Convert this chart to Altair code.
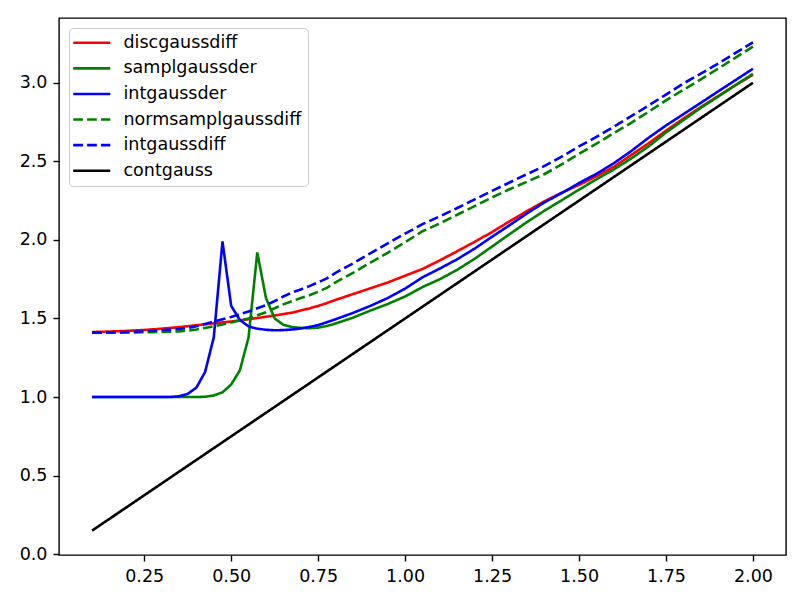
import altair as alt
import pandas as pd

sigma = [0.1, 0.125, 0.15, 0.175, 0.2, 0.225, 0.25, 0.275, 0.3, 0.325,
         0.35, 0.375, 0.4, 0.425, 0.45, 0.475, 0.5, 0.525, 0.55, 0.575,
         0.6, 0.625, 0.65, 0.675, 0.7, 0.725, 0.75, 0.775, 0.8,
         0.85, 0.9, 0.95, 1.0, 1.05, 1.1, 1.15, 1.2, 1.25, 1.3, 1.35, 1.4,
         1.45, 1.5, 1.55, 1.6, 1.65, 1.7, 1.75, 1.8, 1.85, 1.9, 1.95, 2.0]

discgaussdiff = [1.414, 1.415, 1.417, 1.419, 1.421, 1.424, 1.427, 1.431, 1.435, 1.440,
                 1.445, 1.451, 1.457, 1.463, 1.469, 1.475, 1.481, 1.488, 1.495, 1.503,
                 1.511, 1.519, 1.528, 1.537, 1.551, 1.564, 1.580, 1.598, 1.618,
                 1.655, 1.692, 1.729, 1.772, 1.815, 1.870, 1.928, 1.988, 2.050, 2.118,
                 2.183, 2.245, 2.300, 2.350, 2.405, 2.465, 2.540, 2.615, 2.695, 2.772,
                 2.845, 2.915, 2.985, 3.050]

samplgaussder = [1.0, 1.0, 1.0, 1.0, 1.0, 1.0, 1.0, 1.0, 1.0, 1.0,
                 1.0, 1.0, 1.0, 1.002, 1.01, 1.03, 1.08, 1.17, 1.38, 1.92,
                 1.63, 1.50, 1.46, 1.445, 1.44, 1.438, 1.442, 1.452, 1.468,
                 1.505, 1.550, 1.592, 1.640, 1.700, 1.750, 1.810, 1.880, 1.958, 2.036,
                 2.113, 2.185, 2.252, 2.320, 2.385, 2.448, 2.518, 2.595, 2.683, 2.762,
                 2.840, 2.912, 2.985, 3.057]

intgaussder = [1.0, 1.0, 1.0, 1.0, 1.0, 1.0, 1.0, 1.0, 1.0, 1.0,
               1.005, 1.02, 1.06, 1.16, 1.38, 1.99, 1.58, 1.49, 1.45, 1.435,
               1.428, 1.425, 1.426, 1.430, 1.437, 1.446, 1.458, 1.476, 1.495,
               1.535, 1.580, 1.630, 1.690, 1.762, 1.818, 1.877, 1.945, 2.020, 2.093,
               2.168, 2.238, 2.298, 2.362, 2.420, 2.488, 2.565, 2.650, 2.728, 2.800,
               2.872, 2.945, 3.017, 3.089]

normsamplgaussdiff = [1.410, 1.410, 1.410, 1.410, 1.411, 1.411, 1.412, 1.413, 1.414, 1.416,
                      1.418, 1.423, 1.430, 1.440, 1.450, 1.462, 1.474, 1.487, 1.500, 1.520,
                      1.540, 1.565, 1.590, 1.610, 1.630, 1.648, 1.670, 1.695, 1.730,
                      1.790, 1.855, 1.918, 1.985, 2.055, 2.105, 2.160, 2.215, 2.270, 2.322,
                      2.370, 2.418, 2.480, 2.548, 2.612, 2.680, 2.745, 2.815, 2.888, 2.955,
                      3.022, 3.090, 3.160, 3.230]

intgaussdiff = [1.410, 1.410, 1.411, 1.412, 1.414, 1.416, 1.419, 1.422, 1.425, 1.429,
                1.433, 1.440, 1.450, 1.465, 1.480, 1.495, 1.510, 1.527, 1.545, 1.565,
                1.585, 1.610, 1.640, 1.665, 1.685, 1.706, 1.730, 1.755, 1.790,
                1.850, 1.915, 1.978, 2.040, 2.100, 2.150, 2.203, 2.258, 2.312, 2.365,
                2.418, 2.470, 2.530, 2.595, 2.655, 2.720, 2.787, 2.855, 2.925, 2.995,
                3.058, 3.122, 3.190, 3.257]

contgauss = [0.15, 0.1875, 0.225, 0.2625, 0.3, 0.3375, 0.375, 0.4125, 0.45, 0.4875,
             0.525, 0.5625, 0.6, 0.6375, 0.675, 0.7125, 0.75, 0.7875, 0.825, 0.8625,
             0.9, 0.9375, 0.975, 1.0125, 1.05, 1.0875, 1.125, 1.1625, 1.2,
             1.275, 1.35, 1.425, 1.5, 1.575, 1.65, 1.725, 1.8, 1.875, 1.95,
             2.025, 2.1, 2.175, 2.25, 2.325, 2.4, 2.475, 2.55, 2.625, 2.7,
             2.775, 2.85, 2.925, 3.0]

names = ["discgaussdiff", "samplgaussder", "intgaussder",
         "normsamplgaussdiff", "intgaussdiff", "contgauss"]
colors = ["#ff0000", "#008000", "#0000ff", "#008000", "#0000ff", "#000000"]
dashes = [[1, 0], [1, 0], [1, 0], [9.7, 4.2], [9.7, 4.2], [1, 0]]
series = [discgaussdiff, samplgaussder, intgaussder,
          normsamplgaussdiff, intgaussdiff, contgauss]

rows = []
for k, (name, vals) in enumerate(zip(names, series)):
    for i, (s, v) in enumerate(zip(sigma, vals)):
        rows.append({"sigma": s, "value": v, "series": name, "k": k, "i": i})
df = pd.DataFrame(rows)

FONT = "DejaVu Sans"
FS = 17.5

legend = alt.Legend(
    title=None, orient="top-left", offset=10,
    fillColor="rgba(255,255,255,0.8)", strokeColor="#cccccc", cornerRadius=4,
    padding=6, labelFont=FONT, labelFontSize=FS, labelColor="black",
    labelLimit=400,
    symbolType="M-4,0H4", symbolSize=86, symbolStrokeWidth=2.6,
    symbolOffset=8, labelOffset=23, rowPadding=6.6,
)

chart = alt.Chart(df).mark_line(strokeWidth=2.6, clip=True).encode(
    x=alt.X("sigma:Q",
            scale=alt.Scale(domain=[0.005, 2.095], nice=False, zero=False),
            axis=alt.Axis(values=[0.25, 0.5, 0.75, 1.0, 1.25, 1.5, 1.75, 2.0],
                          format=".2f", title=None)),
    y=alt.Y("value:Q",
            scale=alt.Scale(domain=[-0.005, 3.412], nice=False, zero=False),
            axis=alt.Axis(values=[0.0, 0.5, 1.0, 1.5, 2.0, 2.5, 3.0],
                          format=".1f", title=None)),
    color=alt.Color("series:N", scale=alt.Scale(domain=names, range=colors),
                    legend=legend),
    strokeDash=alt.StrokeDash("series:N", scale=alt.Scale(domain=names, range=dashes),
                              legend=legend),
    detail="k:O",
    order="i:Q",
).properties(
    width=727, height=537,
    autosize=alt.AutoSizeParams(type="none"),
    padding={"left": 51, "top": 10, "right": 10, "bottom": 40},
).configure_view(
    stroke="black", strokeWidth=1.4
).configure_axis(
    labelFont=FONT, labelFontSize=FS, labelColor="black",
    tickColor="black", tickSize=6, tickWidth=1.4, labelPadding=6,
    domain=False, grid=False,
)

chart.save("out.html", embed_options={"renderer": "svg", "actions": False})
